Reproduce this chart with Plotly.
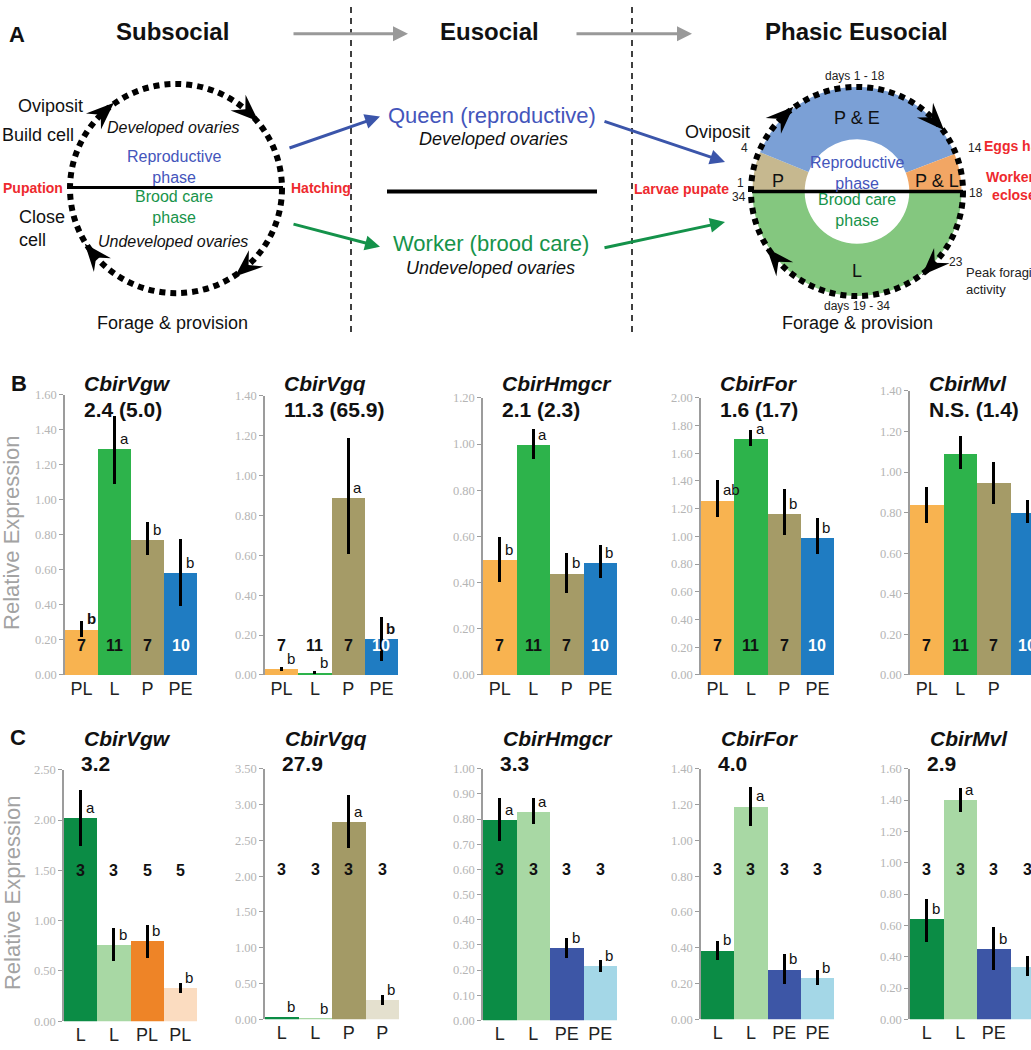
import math
import plotly.graph_objects as go

W, H = 1031, 1050
SANS = "Liberation Sans, Arial, sans-serif"
SERIF = "Liberation Serif, Times New Roman, serif"

# ---------------- data ----------------
genes = ["CbirVgw", "CbirVgq", "CbirHmgcr", "CbirFor", "CbirMvl"]

# Panel B
b_fold = ["2.4 (5.0)", "11.3 (65.9)", "2.1 (2.3)", "1.6 (1.7)", "N.S. (1.4)"]
b_cats = ["PL", "L", "P", "PE"]
b_n = ["7", "11", "7", "10"]

b_vgw_mean = [0.26, 1.29, 0.77, 0.585]
b_vgw_up = [0.05, 0.19, 0.105, 0.19]
b_vgw_down = [0.045, 0.20, 0.087, 0.19]
b_vgw_sig = ["<b>b</b>", "a", "b", "b"]

b_vgq_mean = [0.03, 0.01, 0.89, 0.18]
b_vgq_up = [0.01, 0.01, 0.30, 0.11]
b_vgq_down = [0.01, 0.005, 0.285, 0.11]
b_vgq_sig = ["b", "b", "a", "<b>b</b>"]

b_hmgcr_mean = [0.50, 0.995, 0.44, 0.485]
b_hmgcr_up = [0.096, 0.07, 0.087, 0.078]
b_hmgcr_down = [0.098, 0.06, 0.086, 0.067]
b_hmgcr_sig = ["b", "a", "b", "b"]

b_for_mean = [1.26, 1.705, 1.165, 0.99]
b_for_up = [0.15, 0.06, 0.175, 0.14]
b_for_down = [0.12, 0.05, 0.157, 0.12]
b_for_sig = ["ab", "a", "b", "b"]

b_mvl_mean = [0.837, 1.09, 0.945, 0.80]
b_mvl_up = [0.09, 0.087, 0.107, 0.064]
b_mvl_down = [0.09, 0.075, 0.10, 0.053]
b_mvl_sig = ["", "", "", ""]

b_ymax = [1.6, 1.4, 1.2, 2.0, 1.4]

# Panel C
c_fold = ["3.2", "27.9", "3.3", "4.0", "2.9"]
c_vgw_cats = ["L", "L", "PL", "PL"]
c_vgq_cats = ["L", "L", "P", "P"]
c_pe_cats = ["L", "L", "PE", "PE"]
c_vgw_n = ["3", "3", "5", "5"]
c_other_n = ["3", "3", "3", "3"]

c_vgw_mean = [2.02, 0.76, 0.80, 0.33]
c_vgw_up = [0.28, 0.17, 0.157, 0.05]
c_vgw_down = [0.28, 0.16, 0.17, 0.046]
c_vgw_sig = ["a", "b", "b", "b"]

c_vgq_mean = [0.03, 0.01, 2.76, 0.275]
c_vgq_up = [0.0, 0.0, 0.37, 0.065]
c_vgq_down = [0.0, 0.0, 0.36, 0.07]
c_vgq_sig = ["b", "b", "a", "b"]

c_hmgcr_mean = [0.798, 0.83, 0.288, 0.216]
c_hmgcr_up = [0.087, 0.055, 0.04, 0.025]
c_hmgcr_down = [0.085, 0.048, 0.042, 0.025]
c_hmgcr_sig = ["a", "a", "b", "b"]

c_for_mean = [0.385, 1.19, 0.28, 0.23]
c_for_up = [0.055, 0.11, 0.087, 0.047]
c_for_down = [0.055, 0.11, 0.082, 0.04]
c_for_sig = ["b", "a", "b", "b"]

c_mvl_mean = [0.64, 1.40, 0.45, 0.335]
c_mvl_up = [0.13, 0.078, 0.14, 0.07]
c_mvl_down = [0.145, 0.073, 0.136, 0.056]
c_mvl_sig = ["b", "a", "b", "b"]

c_ymax = [2.5, 3.5, 1.0, 1.4, 1.6]
c_dtick = [0.5, 0.5, 0.1, 0.2, 0.2]

# Panel A donut (angular extent in degrees of each phase of the colony cycle)
donut_labels = ["P", "P & E", "P & L", "L"]
donut_deg = [22, 137, 21, 180]

# ---------------- styles ----------------
b_colors = ["#F8B350", "#2DB34B", "#A59B67", "#1F7CC2"]
c_colors = [
    ["#0B8C45", "#A8D8A4", "#EE8427", "#FBDCC0"],
    ["#0B8C45", "#A8D8A4", "#A39A66", "#E4E0CE"],
    ["#0B8C45", "#A8D8A4", "#3D56A6", "#A4D7E7"],
    ["#0B8C45", "#A8D8A4", "#3D56A6", "#A4D7E7"],
    ["#0B8C45", "#A8D8A4", "#3D56A6", "#A4D7E7"],
]
donut_colors = ["#C6B88F", "#7BA0D6", "#F2A664", "#84C77F"]
BLUE_T = "#4455BB"
GREEN_T = "#17934A"
RED_T = "#EE2A2E"

b_sets = [
    (b_vgw_mean, b_vgw_up, b_vgw_down, b_vgw_sig),
    (b_vgq_mean, b_vgq_up, b_vgq_down, b_vgq_sig),
    (b_hmgcr_mean, b_hmgcr_up, b_hmgcr_down, b_hmgcr_sig),
    (b_for_mean, b_for_up, b_for_down, b_for_sig),
    (b_mvl_mean, b_mvl_up, b_mvl_down, b_mvl_sig),
]
c_sets = [
    (c_vgw_cats, c_vgw_n, c_vgw_mean, c_vgw_up, c_vgw_down, c_vgw_sig),
    (c_vgq_cats, c_other_n, c_vgq_mean, c_vgq_up, c_vgq_down, c_vgq_sig),
    (c_pe_cats, c_other_n, c_hmgcr_mean, c_hmgcr_up, c_hmgcr_down, c_hmgcr_sig),
    (c_pe_cats, c_other_n, c_for_mean, c_for_up, c_for_down, c_for_sig),
    (c_pe_cats, c_other_n, c_mvl_mean, c_mvl_up, c_mvl_down, c_mvl_sig),
]

# geometry (pixels)
b_xpix = [(65, 197), (265, 398), (483, 617), (701, 834), (910, 1044)]
b_ytop = [393, 394, 396, 396, 389]
b_ybot = 677
B_NSHIFT = 29
c_xpix = [(64, 197), (265, 399), (483, 617), (701, 834), (910, 1044)]
c_ytop = [773, 772, 772, 772, 772]
c_ybot = [1028, 1026, 1027, 1026, 1026]
c_nlevel = [1.5, 2.1, 0.6, 0.835, 0.955]

fig = go.Figure()
annotations = []
shapes = []
layout_axes = {}


def sfx(k):
    return "" if k == 1 else str(k)


def px(x):
    return x / W


def py(y):
    return 1 - y / H


def txt(x, y, s, size=18, color="#111111", xanchor="center", yanchor="middle",
        align="center", family=SANS, angle=0):
    annotations.append(dict(x=px(x), y=py(y), xref="paper", yref="paper", text=s,
                            showarrow=False, textangle=angle,
                            font=dict(size=size, color=color, family=family),
                            xanchor=xanchor, yanchor=yanchor, align=align))


def setup_axes(k, xl, xr, ytop, ybot, ymax, dtick, cats, tickfs, standoff):
    s = sfx(k)
    clip_r = min(xr, W)
    rng_hi = -0.5 + 4 * (clip_r - xl) / (xr - xl)
    layout_axes[f"xaxis{s}"] = dict(
        domain=[px(xl), px(clip_r)], range=[-0.5, rng_hi], anchor=f"y{s}",
        tickvals=[0, 1, 2, 3], ticktext=cats, showline=False, ticks="",
        showgrid=False, zeroline=False, ticklabelstandoff=standoff,
        tickfont=dict(size=tickfs, color="#222222", family=SANS))
    layout_axes[f"yaxis{s}"] = dict(
        domain=[py(ybot), py(ytop)], range=[0, ymax * 1.0004], anchor=f"x{s}",
        dtick=dtick, tick0=0, tickformat=".2f", showline=True, linecolor="#9c9c9c",
        linewidth=1.5, ticks="outside", ticklen=4, tickcolor="#9c9c9c",
        showgrid=False, zeroline=False,
        tickfont=dict(size=12.5, color="#b5b5b5", family=SERIF))


def bars(k, mean, up, down, colors):
    s = sfx(k)
    fig.add_trace(go.Bar(
        x=[0, 1, 2, 3], y=mean, marker=dict(color=colors, line=dict(width=0)),
        error_y=dict(type="data", symmetric=False, array=up, arrayminus=down,
                     thickness=3, width=0, color="black"),
        xaxis=f"x{s}", yaxis=f"y{s}", hoverinfo="skip", showlegend=False))


# ---------------- Panel B ----------------
for i in range(5):
    k = i + 1
    s = sfx(k)
    mean, up, down, sig = b_sets[i]
    xl, xr = b_xpix[i]
    setup_axes(k, xl, xr, b_ytop[i], b_ybot, b_ymax[i], 0.2, b_cats, 18, 1)
    bars(k, mean, up, down, b_colors)
    for j in range(4):
        annotations.append(dict(
            x=j, y=0, xref=f"x{s}", yref=f"y{s} domain", yshift=B_NSHIFT,
            text=f"<b>{b_n[j]}</b>", showarrow=False, yanchor="middle",
            font=dict(size=16, family=SANS, color="white" if j == 3 else "#111111")))
        if sig[j]:
            annotations.append(dict(
                x=j, y=mean[j], xref=f"x{s}", yref=f"y{s}", xshift=3,
                text=sig[j], showarrow=False, xanchor="left", yanchor="bottom",
                font=dict(size=15, family=SANS, color="#111111")))
    txt(xl + 17, 382, f"<b><i>{genes[i]}</i></b>", size=21, xanchor="left")
    txt(xl + 17, 408, f"<b>{b_fold[i]}</b>", size=21, xanchor="left")

# ---------------- Panel C ----------------
for i in range(5):
    k = i + 6
    s = sfx(k)
    cats, ns, mean, up, down, sig = c_sets[i]
    xl, xr = c_xpix[i]
    setup_axes(k, xl, xr, c_ytop[i], c_ybot[i], c_ymax[i], c_dtick[i], cats, 18, 1)
    bars(k, mean, up, down, c_colors[i])
    for j in range(4):
        annotations.append(dict(
            x=j, y=c_nlevel[i], xref=f"x{s}", yref=f"y{s}",
            text=f"<b>{ns[j]}</b>", showarrow=False, yanchor="middle",
            font=dict(size=16, family=SANS, color="#111111")))
        if sig[j]:
            annotations.append(dict(
                x=j, y=mean[j], xref=f"x{s}", yref=f"y{s}", xshift=3,
                text=sig[j], showarrow=False, xanchor="left", yanchor="bottom",
                font=dict(size=15, family=SANS, color="#111111")))
    txt(xl + 18, 741, f"<b><i>{genes[i]}</i></b>", size=21, xanchor="left")
    txt(xl + 15, 767, f"<b>{c_fold[i]}</b>", size=21, xanchor="left")

# y titles and panel letters
txt(12, 533, "Relative Expression", size=22, color="#a3a3a3", angle=-90)
txt(12, 898, "Relative Expression", size=22, color="#a3a3a3", angle=-90)
txt(17, 28, "<b>A</b>", size=22)
txt(19, 382, "<b>B</b>", size=22)
txt(18, 740, "<b>C</b>", size=22)

# ---------------- Panel A ----------------
fig.add_trace(go.Pie(
    values=donut_deg, labels=donut_labels, sort=False, direction="clockwise",
    rotation=270, hole=0.5, textinfo="none", hoverinfo="skip", showlegend=False,
    marker=dict(colors=donut_colors, line=dict(width=0)),
    domain=dict(x=[px(857 - 106), px(857 + 106)], y=[py(187 + 106), py(187 - 106)])))


def line(x0, y0, x1, y1, color="black", width=3, dash="solid"):
    shapes.append(dict(type="line", xref="paper", yref="paper", x0=px(x0), y0=py(y0),
                       x1=px(x1), y1=py(y1), line=dict(color=color, width=width, dash=dash)))


def circle(cx, cy, r):
    shapes.append(dict(type="circle", xref="paper", yref="paper", x0=px(cx - r), x1=px(cx + r),
                       y0=py(cy + r), y1=py(cy - r),
                       line=dict(color="black", width=6, dash="6px,5px")))


def head(cx, cy, r, theta, L=28, w=11, notch=10):
    t = math.radians(theta)
    ox, oy = cx + r * math.cos(t), cy - r * math.sin(t)
    dx, dy = math.sin(t), math.cos(t)
    tx, ty = ox + dx * L / 2, oy + dy * L / 2
    nx, ny = -dy, dx
    pts = [(tx, ty), (tx - L * dx + w * nx, ty - L * dy + w * ny),
           (tx - (L - notch) * dx, ty - (L - notch) * dy),
           (tx - L * dx - w * nx, ty - L * dy - w * ny)]
    path = "M " + " L ".join(f"{px(a):.5f},{py(b):.5f}" for a, b in pts) + " Z"
    shapes.append(dict(type="path", xref="paper", yref="paper", path=path,
                       fillcolor="black", line=dict(width=0)))


def arrow(x0, y0, x1, y1, color, width=3):
    annotations.append(dict(x=px(x1), y=py(y1), xref="paper", yref="paper",
                            ax=x0 - x1, ay=y0 - y1, axref="pixel", ayref="pixel",
                            showarrow=True, arrowhead=2, arrowsize=1, arrowwidth=width,
                            arrowcolor=color, text=""))


# dashed separators
line(351, 0, 351, 332, width=1.5, dash="6px,5px")
line(632, 0, 632, 332, width=1.5, dash="6px,5px")

# left cycle
line(68, 183, 283, 183, width=3)
circle(176, 184, 106)
for th in [133, 47, -49, -141]:
    head(176, 184, 106, th)

# right cycle
line(752, 187, 963, 187, width=3.5)
circle(857, 187, 106)
for th in [134, 43, -45, -140]:
    head(857, 187, 106, th)

# middle line
line(387, 187, 597, 187, width=4)

# arrows
arrow(292, 27, 408, 27, "#999999", 3)
arrow(575, 27, 692, 27, "#999999", 3)
arrow(288, 143, 380, 111, "#3B55AA", 3)
arrow(292, 220, 380, 243, "#14924A", 3)
arrow(603, 116, 725, 157, "#3B55AA", 3)
arrow(603, 244, 725, 218, "#14924A", 3)

# titles
txt(172, 25, "<b>Subsocial</b>", size=24)
txt(489, 25, "<b>Eusocial</b>", size=24)
txt(856, 25, "<b>Phasic Eusocial</b>", size=24)

# left texts
txt(16, 100, "Oviposit", size=18, xanchor="left")
txt(0, 130, "Build cell", size=18, xanchor="left")
txt(1, 183, "<b>Pupation</b>", size=14, color=RED_T, xanchor="left")
txt(289, 183, "<b>Hatching</b>", size=14, color=RED_T, xanchor="left")
txt(17, 224, "Close<br>cell", size=18, xanchor="left", align="left")
txt(173, 122, "<i>Developed ovaries</i>", size=16)
txt(174, 162, "Reproductive<br>phase", size=16, color=BLUE_T)
txt(174, 203, "Brood care<br>phase", size=16, color=GREEN_T)
txt(173, 238, "<i>Undeveloped ovaries</i>", size=16)
txt(172, 320, "Forage &amp; provision", size=18)

# middle texts
txt(492, 110, "Queen (reproductive)", size=22, color=BLUE_T)
txt(493, 134, "<i>Developed ovaries</i>", size=18)
txt(491, 240, "Worker (brood care)", size=22, color=GREEN_T)
txt(490, 265, "<i>Undeveloped ovaries</i>", size=18)

# right texts
txt(855, 70, "days 1 - 18", size=12, color="#222222")
txt(857, 112, "P &amp; E", size=18)
txt(778, 176, "P", size=18)
txt(937, 176, "P &amp; L", size=18)
txt(857, 168, "Reproductive<br>phase", size=16, color=BLUE_T)
txt(857, 206, "Brood care<br>phase", size=16, color=GREEN_T)
txt(857, 268, "L", size=18)
txt(857, 303, "days 19 - 34", size=12, color="#222222")
txt(857, 320, "Forage &amp; provision", size=18)
txt(752, 127, "Oviposit", size=18, xanchor="right")
txt(744, 143, "4", size=12, color="#222222")
txt(740, 178, "1", size=12, color="#222222")
txt(748, 193, "34", size=12, color="#222222", xanchor="right")
txt(731, 184, "<b>Larvae pupate</b>", size=14, color=RED_T, xanchor="right")
txt(966, 143, "14", size=12, color="#222222", xanchor="left")
txt(982, 141, "<b>Eggs hatch</b>", size=14, color=RED_T, xanchor="left")
txt(967, 189, "18", size=12, color="#222222", xanchor="left")
txt(984, 181, "<b>Workers<br>eclose</b>", size=14, color=RED_T, xanchor="left")
txt(947, 258, "23", size=12, color="#222222", xanchor="left")
txt(964, 278, "Peak foraging<br>activity", size=13, color="#222222", xanchor="left", align="left")

fig.update_layout(
    width=W, height=H, margin=dict(l=0, r=0, t=0, b=0),
    paper_bgcolor="white", plot_bgcolor="white", bargap=0,
    annotations=annotations, shapes=shapes, **layout_axes)

fig.write_html("out.html", config={"displayModeBar": False},
               post_script="document.body.style.margin='0';document.body.style.overflow='hidden';")
